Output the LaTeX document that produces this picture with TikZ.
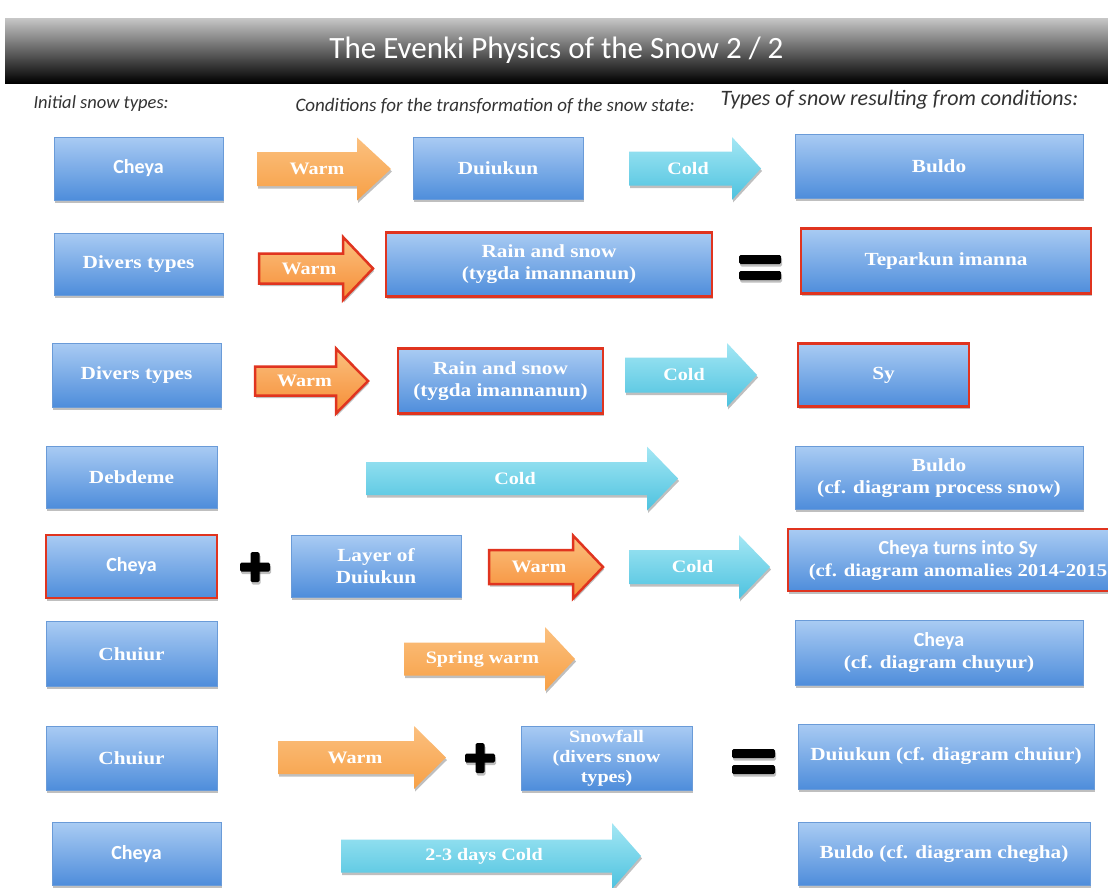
\documentclass[tikz,border=0pt]{standalone}
\usepackage{fontspec}
\setmainfont{Liberation Serif}
\newfontfamily\headfont{Carlito}
\newfontfamily\labelfont[FakeStretch=1.15]{Liberation Serif}
\usetikzlibrary{shadows}

\definecolor{boxtop}{HTML}{A9CBF3}
\definecolor{boxbot}{HTML}{4E8DDB}
\definecolor{boxedge}{HTML}{6A9BD8}
\definecolor{warmtop}{HTML}{FBC07F}
\definecolor{warmbot}{HTML}{F7A046}
\definecolor{hotbot}{HTML}{F68E36}
\definecolor{coldtop}{HTML}{A4E7F4}
\definecolor{coldbot}{HTML}{4DC2DF}
\definecolor{redline}{HTML}{E0341F}
\definecolor{subgray}{HTML}{333333}

\tikzset{
  softshadow/.style={drop shadow={shadow xshift=1pt, shadow yshift=-2.5pt, opacity=0.25, fill=black}},
  snowbox/.style={rectangle, draw=boxedge, line width=0.6pt, top color=boxtop, bottom color=boxbot,
    softshadow, text=white, align=center, inner sep=2pt,
    font=\labelfont\bfseries\fontsize{18.5}{22}\selectfont},
  redbox/.style={snowbox, draw=redline, line width=2.5pt},
  warmarrow/.style={top color=warmtop, bottom color=warmbot, softshadow},
  hotarrow/.style={top color=warmtop, bottom color=hotbot, draw=redline, line width=2.5pt, softshadow},
  coldarrow/.style={top color=coldtop, bottom color=coldbot, softshadow},
  arrowlabel/.style={text=white, font=\labelfont\bfseries\fontsize{17.5}{21}\selectfont, inner sep=1pt},
  subhead/.style={anchor=west, text=subgray, font=\headfont\itshape\fontsize{#1}{#1}\selectfont},
  signbar/.style={fill=black, rounded corners=1.5pt, softshadow}
}
% sans lettering used for the name Cheya
\newcommand{\cheyafont}{\headfont\bfseries\fontsize{20}{22}\selectfont}

% block arrow: style, label name, tail x, head start x, tip x, centre y, body half-height, head half-height, label
\newcommand{\blockarrow}[9]{%
  \path[#1] ({#3},{#6-#7}) -- ({#4},{#6-#7}) -- ({#4},{#6-#8}) -- ({#5},{#6})
    -- ({#4},{#6+#8}) -- ({#4},{#6+#7}) -- ({#3},{#6+#7}) -- cycle;
  \node[arrowlabel] (#2) at ({(#3+#5)/2-7},{#6}) {#9};}

% plus sign centred at (x,y)
\newcommand{\plussign}[2]{%
  \path[signbar] ({#1-15},{#2-4.5}) rectangle ({#1+15},{#2+4.5});
  \path[signbar] ({#1-4.5},{#2-15}) rectangle ({#1+4.5},{#2+15});}

% equals sign: left x, right x, top y of upper bar
\newcommand{\equalsign}[3]{%
  \path[signbar] ({#1},{#3}) rectangle ({#2},{#3+9});
  \path[signbar] ({#1},{#3+16}) rectangle ({#2},{#3+25});}

\begin{document}
\begin{tikzpicture}[x=1pt,y=-1pt]
  \useasboundingbox (0,0) rectangle (1108,887);
  \fill[white] (0,0) rectangle (1108,887);

  % title banner
  \node[rectangle, minimum width=1103pt, minimum height=65pt, inner sep=0pt,
        top color=black!22, middle color=black!62, bottom color=black, text=white,
        font=\headfont\fontsize{31}{36}\selectfont] (title) at (556.5,50.5)
        {The Evenki Physics of the Snow 2 / 2};

  % column headings
  \node[subhead=18.5] (hinit) at (30,104) {Initial snow types:};
  \node[subhead=19] (hcond) at (292,106) {Conditions for the transformation of the snow state:};
  \node[subhead=22] (hres)  at (717,100) {Types of snow resulting from conditions:};

  % row 1
  \node[snowbox, minimum width=169pt, minimum height=63pt] (a1) at (138.5,168.5) {\cheyafont Cheya};
  \blockarrow{warmarrow}{w1}{257}{357}{391}{169}{17}{31.5}{Warm}
  \node[snowbox, minimum width=170pt, minimum height=62pt] (b1) at (498,168.5) {Duiukun};
  \blockarrow{coldarrow}{k1}{629}{732}{761}{168.5}{17}{31.5}{Cold}
  \node[snowbox, minimum width=288pt, minimum height=64pt] (r1) at (939,166) {Buldo};

  % row 2
  \node[snowbox, minimum width=169pt, minimum height=62pt] (a2) at (138.5,264) {Divers types};
  \blockarrow{hotarrow}{w2}{259}{343}{373}{268.5}{15}{31.5}{Warm}
  \node[redbox, minimum width=326pt, minimum height=64pt] (b2) at (549,264.5) {Rain and snow\\(tygda imannanun)};
  \equalsign{739}{781}{255}
  \node[redbox, minimum width=290pt, minimum height=65pt] (r2) at (946,261) {Teparkun imanna};

  % row 3
  \node[snowbox, minimum width=169pt, minimum height=64pt] (a3) at (136.5,375) {Divers types};
  \blockarrow{hotarrow}{w3}{255}{336}{368}{381}{14.5}{32.5}{Warm}
  \node[redbox, minimum width=205pt, minimum height=65pt] (b3) at (500.5,381) {Rain and snow\\(tygda imannanun)};
  \blockarrow{coldarrow}{k3}{625}{727}{757}{375}{17.5}{32}{Cold}
  \node[redbox, minimum width=171pt, minimum height=63pt] (r3) at (883.5,375) {Sy};

  % row 4
  \node[snowbox, minimum width=171pt, minimum height=62pt] (a4) at (131.5,477) {Debdeme};
  \blockarrow{coldarrow}{k4}{366}{647}{678}{478.5}{16.5}{32}{Cold}
  \node[snowbox, minimum width=288pt, minimum height=63pt] (r4) at (939,478) {Buldo\\(cf. diagram process snow)};

  % row 5 (the result box runs past the right edge of the page)
  \node[redbox, minimum width=171pt, minimum height=63pt] (a5) at (131.5,566.5) {\cheyafont Cheya};
  \plussign{255}{567}
  \node[snowbox, minimum width=170pt, minimum height=62pt] (b5) at (376,566) {Layer of\\Duiukun};
  \blockarrow{hotarrow}{w5}{489}{573}{603}{567}{17}{31.5}{Warm}
  \blockarrow{coldarrow}{k5}{629}{739}{770}{567}{17}{32}{Cold}
  \node[redbox, minimum width=340pt, minimum height=62pt,
        font=\labelfont\bfseries\fontsize{18}{22}\selectfont] (r5) at (958,560)
       {{\cheyafont Cheya turns into Sy}\\(cf. diagram anomalies 2014-2015};

  % row 6
  \node[snowbox, minimum width=171pt, minimum height=65pt] (a6) at (131.5,654) {Chuiur};
  \blockarrow{warmarrow}{w6}{404}{545}{575}{659}{16.5}{32}{Spring warm}
  \node[snowbox, minimum width=288pt, minimum height=65pt] (r6) at (939,653) {{\cheyafont Cheya}\\(cf. diagram chuyur)};

  % row 7
  \node[snowbox, minimum width=171pt, minimum height=64pt] (a7) at (131.5,758) {Chuiur};
  \blockarrow{warmarrow}{w7}{278}{414}{446}{757.5}{16.5}{31.5}{Warm}
  \plussign{480}{758}
  \node[snowbox, minimum width=171pt, minimum height=64pt, font=\labelfont\bfseries\fontsize{17.5}{20}\selectfont] (b7) at (606.5,758) {Snowfall\\(divers snow\\types)};
  \equalsign{732}{775}{749}
  \node[snowbox, minimum width=296pt, minimum height=65pt] (r7) at (946,756.5) {Duiukun (cf. diagram chuiur)};

  % row 8
  \node[snowbox, minimum width=169pt, minimum height=63pt] (a8) at (136.5,854) {\cheyafont Cheya};
  \blockarrow{coldarrow}{k8}{341}{612}{641}{856}{16.5}{33}{2-3 days Cold}
  \node[snowbox, minimum width=292pt, minimum height=63pt] (r8) at (944,854) {Buldo (cf. diagram chegha)};
\end{tikzpicture}
\end{document}
